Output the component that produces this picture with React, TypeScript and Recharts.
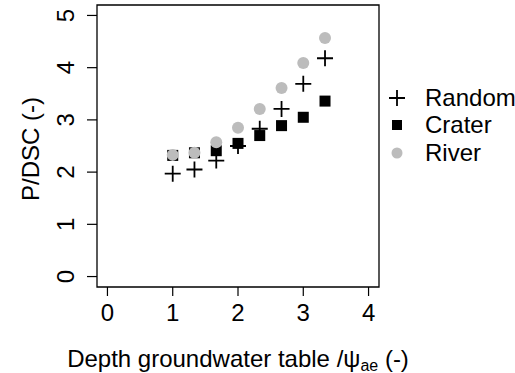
import React from 'react';
import {
  ScatterChart,
  Scatter,
  XAxis,
  YAxis,
  ReferenceArea,
} from 'recharts';

// depth of groundwater table scaled by air entry value
const depth = [1, 1.333, 1.667, 2, 2.333, 2.667, 3, 3.333];
const randomVals = [1.97, 2.05, 2.22, 2.5, 2.83, 3.21, 3.69, 4.18];
const craterVals = [2.32, 2.37, 2.41, 2.55, 2.7, 2.89, 3.05, 3.36];
const riverVals = [2.33, 2.37, 2.57, 2.85, 3.21, 3.61, 4.09, 4.57];

const xTicks = [0, 1, 2, 3, 4];
const yTicks = [0, 1, 2, 3, 4, 5];

const toPoints = (vals: number[]) => depth.map((x, i) => ({ x, y: vals[i] }));

const FONT = '"Liberation Sans", Arial, sans-serif';
const FS = 24;
const RIVER_GREY = '#bcbcbc';

const PlusShape = (props: any) => {
  const { cx, cy } = props;
  return (
    <path
      d={`M${cx - 8},${cy}H${cx + 8}M${cx},${cy - 8}V${cy + 8}`}
      stroke="#000"
      strokeWidth={1.8}
      fill="none"
    />
  );
};

const SquareShape = (props: any) => {
  const { cx, cy } = props;
  return <rect x={cx - 5.5} y={cy - 5.5} width={11} height={11} fill="#000" />;
};

const CircleShape = (props: any) => {
  const { cx, cy } = props;
  return <circle cx={cx} cy={cy} r={6} fill={RIVER_GREY} />;
};

const YTick = (props: any) => {
  const { x, y, payload } = props;
  return (
    <text
      x={x}
      y={y}
      dy="0.36em"
      transform={`rotate(-90, ${x}, ${y})`}
      textAnchor="middle"
      fontSize={FS}
      fontFamily={FONT}
      fill="#000"
    >
      {payload.value}
    </text>
  );
};

const XTitle = (props: any) => {
  const { viewBox } = props;
  const cx = viewBox.x + viewBox.width / 2;
  return (
    <text x={cx} y={367} textAnchor="middle" fontSize={FS} fontFamily={FONT} fill="#000">
      Depth groundwater table /ψ
      <tspan fontSize={16} dy={4}>ae</tspan>
      <tspan dy={-4}> (-)</tspan>
    </text>
  );
};

const YTitle = (props: any) => {
  const { viewBox } = props;
  const cy = viewBox.y + viewBox.height / 2 + 3;
  return (
    <text
      x={30}
      y={cy}
      dy="0.36em"
      transform={`rotate(-90, 30, ${cy})`}
      textAnchor="middle"
      fontSize={FS}
      fontFamily={FONT}
      fill="#000"
    >
      P/DSC (-)
    </text>
  );
};

const legendItems = [
  { name: 'Random', icon: 'plus' },
  { name: 'Crater', icon: 'square' },
  { name: 'River', icon: 'circle' },
];

const LegendIcon = ({ icon }: { icon: string }) => (
  <svg width={20} height={20} style={{ display: 'block' }}>
    {icon === 'plus' && (
      <path d="M2,10H18M10,2V18" stroke="#000" strokeWidth={1.8} fill="none" />
    )}
    {icon === 'square' && <rect x={5} y={5} width={10} height={10} fill="#000" />}
    {icon === 'circle' && <circle cx={10} cy={10} r={5.5} fill={RIVER_GREY} />}
  </svg>
);

const App: React.FC = () => {
  return (
    <div style={{ position: 'absolute', left: 0, top: 0, width: 515, height: 373, background: '#fff' }}>
      <ScatterChart
        width={515}
        height={373}
        margin={{ top: 5, right: 136, bottom: 0, left: 0 }}
      >
        <XAxis
          type="number"
          dataKey="x"
          domain={[-0.16, 4.16]}
          ticks={xTicks}
          allowDataOverflow
          height={86}
          axisLine={false}
          tickSize={9}
          tickMargin={8}
          tickLine={{ stroke: '#000', strokeWidth: 1.2 }}
          tick={{ fontSize: FS, fontFamily: FONT, fill: '#000' }}
          label={<XTitle />}
        />
        <YAxis
          type="number"
          dataKey="y"
          domain={[-0.2, 5.2]}
          ticks={yTicks}
          allowDataOverflow
          width={97}
          axisLine={false}
          tickSize={10}
          tickMargin={22}
          tickLine={{ stroke: '#000', strokeWidth: 1.2 }}
          tick={<YTick />}
          label={<YTitle />}
        />
        <ReferenceArea
          x1={-0.16}
          x2={4.16}
          y1={-0.2}
          y2={5.2}
          fill="none"
          stroke="#000"
          strokeWidth={1.3}
        />
        <Scatter
          name="Crater"
          data={toPoints(craterVals)}
          shape={<SquareShape />}
          isAnimationActive={false}
        />
        <Scatter
          name="River"
          data={toPoints(riverVals)}
          shape={<CircleShape />}
          isAnimationActive={false}
        />
        <Scatter
          name="Random"
          data={toPoints(randomVals)}
          shape={<PlusShape />}
          isAnimationActive={false}
        />
      </ScatterChart>
      <div style={{ position: 'absolute', left: 387, top: 84, fontFamily: FONT, fontSize: FS }}>
        {legendItems.map((item) => (
          <div key={item.name} style={{ display: 'flex', alignItems: 'center', height: 27.5 }}>
            <LegendIcon icon={item.icon} />
            <span style={{ marginLeft: 18, lineHeight: '24px' }}>{item.name}</span>
          </div>
        ))}
      </div>
    </div>
  );
};

export default App;
